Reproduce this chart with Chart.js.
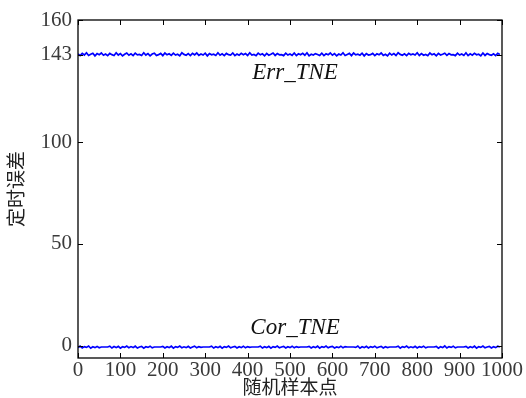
<!DOCTYPE html>
<html><head><meta charset="utf-8">
<script src="https://cdn.jsdelivr.net/npm/chart.js@4"></script>
<style>html,body{margin:0;padding:0;background:#fff}canvas{display:block}</style>
</head><body>
<canvas id="c" width="526" height="398"></canvas>
<script>
const sampleStep = 5;
const errTNE = [
143.4,142.5,143.6,142.8,143.9,142.6,143.2,143.7,142.4,143.5,142.9,143.8,142.7,143.3,142.5,143.6,143.0,142.6,143.9,142.8,
143.5,142.4,143.2,143.8,142.7,143.4,142.5,143.7,142.9,143.1,142.6,143.9,142.8,143.5,142.4,143.3,143.7,142.6,143.0,143.6,
142.5,143.8,142.9,143.4,142.6,143.7,142.8,143.2,142.4,143.9,143.1,142.7,143.5,142.5,143.6,142.9,143.8,142.6,143.3,142.8,
143.7,142.4,143.5,142.9,143.2,142.6,143.9,142.7,143.4,142.5,143.6,143.0,142.8,143.8,142.5,143.3,142.7,143.6,142.9,143.5,
142.6,143.9,142.8,143.1,142.5,143.7,142.9,143.4,142.4,143.6,142.7,143.2,143.8,142.6,143.5,142.9,143.0,142.5,143.7,142.8,
143.3,142.6,143.8,142.5,143.4,142.9,143.6,142.7,143.9,142.4,143.2,142.8,143.5,143.1,142.6,143.7,142.5,143.4,142.9,143.8,
142.7,143.5,142.4,143.3,142.8,143.9,142.6,143.1,143.6,142.5,143.8,142.9,143.2,142.7,143.7,142.4,143.5,142.8,143.0,143.6,
142.5,143.4,142.9,143.8,142.6,143.2,142.4,143.7,142.8,143.5,142.6,143.9,143.1,142.7,143.4,142.5,143.6,142.9,143.3,142.8,
143.9,142.6,143.5,142.7,143.1,142.5,143.8,142.9,143.4,142.4,143.6,142.8,143.2,143.7,142.6,143.5,142.9,143.0,142.5,143.7,
142.8,143.3,142.6,143.9,142.5,143.4,142.7,143.6,142.9,143.2,142.4,143.8,142.6,143.5,143.0,142.7,143.4,142.5,143.6,143.1
];
const corTNE = [
-0.9,-0.2,-1.1,-0.4,-0.8,-0.1,-1.2,-0.5,-0.9,-0.3,-1.0,-0.6,-0.6,-0.6,-0.6,-0.2,-1.1,-0.4,-0.9,-0.3,
-1.2,-0.5,-0.8,-0.1,-1.0,-0.4,-0.9,-0.2,-1.1,-0.6,-0.3,-1.2,-0.5,-0.8,-0.2,-1.0,-0.6,-0.6,-0.6,-0.6,
-0.3,-1.1,-0.5,-0.9,-0.2,-1.2,-0.4,-0.8,-0.1,-1.0,-0.5,-0.9,-0.3,-1.1,-0.6,-0.2,-1.0,-0.4,-0.8,-0.6,
-0.6,-0.6,-0.6,-0.2,-1.1,-0.5,-0.9,-0.3,-1.2,-0.4,-0.8,-0.1,-1.0,-0.6,-0.3,-1.1,-0.5,-0.9,-0.2,-1.0,
-0.4,-0.8,-0.6,-0.6,-0.6,-0.6,-0.2,-1.1,-0.5,-0.9,-0.3,-1.2,-0.4,-0.8,-0.1,-1.0,-0.6,-0.3,-1.1,-0.5,
-0.9,-0.2,-1.0,-0.4,-0.8,-0.6,-0.6,-0.6,-0.6,-0.3,-1.1,-0.5,-0.9,-0.2,-1.2,-0.4,-0.8,-0.1,-1.0,-0.5,
-0.3,-1.1,-0.6,-0.9,-0.2,-1.0,-0.4,-0.6,-0.6,-0.6,-0.6,-0.8,-0.1,-1.2,-0.5,-0.9,-0.3,-1.1,-0.4,-0.8,
-0.2,-1.0,-0.6,-0.3,-1.1,-0.5,-0.9,-0.6,-0.6,-0.6,-0.6,-0.2,-1.2,-0.4,-0.8,-0.1,-1.0,-0.5,-0.9,-0.3,
-1.1,-0.4,-0.8,-0.2,-1.0,-0.6,-0.6,-0.6,-0.6,-0.3,-1.2,-0.5,-0.9,-0.1,-1.1,-0.4,-0.8,-0.2,-1.0,-0.6,
-0.6,-0.6,-0.6,-0.3,-1.1,-0.5,-0.9,-0.2,-1.2,-0.4,-0.8,-0.1,-1.0,-0.6,-0.3,-1.1,-0.5,-0.9,-0.2,-0.6
];
const xTicks = [0,100,200,300,400,500,600,700,800,900,1000];
const yTicks = [0,50,100,143,160];
const labelTexts = ['Err_TNE','Cor_TNE'];
const labelX = [512,512];
const labelY = [134,9];

const toPts = arr => arr.map((v,i)=>({x:i*sampleStep, y:v}));
const tickFont = {family:'Liberation Serif', size:21};
const tickColor = '#3a3a3a';

const framePlugin = {
  id:'frame',
  afterDatasetsDraw(chart){
    const {ctx, chartArea:a, scales:{x,y}} = chart;
    ctx.save();
    ctx.fillStyle = '#111';
    ctx.font = 'italic 23px "Liberation Serif"';
    ctx.textAlign = 'center';
    ctx.textBaseline = 'middle';
    labelTexts.forEach((t,i)=>ctx.fillText(t, x.getPixelForValue(labelX[i]), y.getPixelForValue(labelY[i])));
    ctx.strokeStyle = '#000';
    ctx.lineWidth = 1.3;
    ctx.strokeRect(a.left, a.top, a.right-a.left, a.bottom-a.top);
    ctx.lineWidth = 1;
    const L = 5;
    ctx.beginPath();
    xTicks.forEach(v=>{
      const px = Math.round(x.getPixelForValue(v))+0.5;
      ctx.moveTo(px,a.bottom); ctx.lineTo(px,a.bottom-L);
      ctx.moveTo(px,a.top); ctx.lineTo(px,a.top+L);
    });
    yTicks.forEach(v=>{
      const py = Math.round(y.getPixelForValue(v))+0.5;
      ctx.moveTo(a.left,py); ctx.lineTo(a.left+L,py);
      ctx.moveTo(a.right,py); ctx.lineTo(a.right-L,py);
    });
    ctx.stroke();
    ctx.restore();
  }
};

new Chart(document.getElementById('c'), {
  type:'line',
  data:{datasets:[
    {label:'Err_TNE', data:toPts(errTNE), borderColor:'#0000ff', borderWidth:1.7, pointRadius:0, tension:0},
    {label:'Cor_TNE', data:toPts(corTNE), borderColor:'#0000ff', borderWidth:1.7, pointRadius:0, tension:0}
  ]},
  options:{
    responsive:false, animation:false, devicePixelRatio:1,
    layout:{padding:{left:0,right:24,top:20,bottom:0}},
    plugins:{legend:{display:false}, tooltip:{enabled:false}},
    scales:{
      x:{type:'linear', min:0, max:1000,
        afterBuildTicks(s){ s.ticks = xTicks.map(v=>({value:v})); },
        ticks:{font:tickFont, color:tickColor, padding:0, maxRotation:0, autoSkip:false, callback:v=>String(v)},
        grid:{display:false, drawTicks:false}, border:{display:false},
        title:{display:true, text:'随机样本点', font:{family:'Noto Sans CJK SC', size:19}, color:'#222', padding:{top:-4,bottom:0}},
        afterFit(s){ s.height = 40; }
      },
      y:{min:-6, max:160,
        afterBuildTicks(s){ s.ticks = yTicks.map(v=>({value:v})); },
        ticks:{font:tickFont, color:tickColor, padding:6, autoSkip:false, callback:v=>String(v)},
        grid:{display:false, drawTicks:false}, border:{display:false},
        title:{display:true, text:'定时误差', font:{family:'Noto Sans CJK SC', size:19}, color:'#222', padding:{top:4,bottom:0}},
        afterFit(s){ s.width = 78; }
      }
    }
  },
  plugins:[framePlugin]
});
</script>
</body></html>
